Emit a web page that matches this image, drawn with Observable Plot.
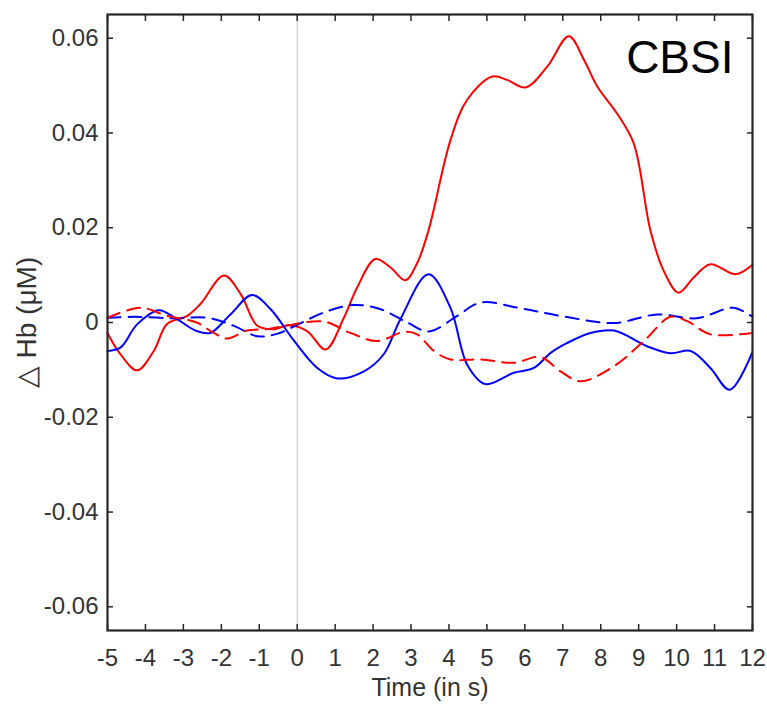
<!DOCTYPE html>
<html>
<head>
<meta charset="utf-8">
<script src="https://cdn.jsdelivr.net/npm/d3@7"></script>
<script src="https://cdn.jsdelivr.net/npm/@observablehq/plot@0.6"></script>
<style>
  html, body { margin: 0; padding: 0; background: #fff; }
  #chart { width: 767px; height: 706px; }
</style>
</head>
<body>
<div id="chart"></div>
<script>
// Haemoglobin change after stimulus onset (CBSI-corrected), four traces.
// Each trace: sample times (s) and ΔHb (µM).
const redSolidT = [-5, -4.66, -4.22, -3.78, -3.43, -2.9, -2.55, -1.93, -1.49, -1.05, -0.62, -0.22, 0.26, 0.75, 1.23, 1.58, 2.06, 2.46, 2.85, 3.16, 3.46, 4.04, 4.48, 5.14, 5.53, 6.02, 6.59, 7.16, 7.56, 7.91, 8.43, 8.87, 9.31, 9.66, 10.05, 10.45, 10.89, 11.55, 12];
const redSolidV = [-0.0022, -0.0067, -0.0101, -0.006, -0.0003, 0.0014, 0.0039, 0.0099, 0.006, -0.0007, -0.0014, -0.0006, -0.0018, -0.0057, 0.001, 0.0074, 0.0134, 0.0116, 0.0089, 0.0125, 0.0194, 0.0385, 0.047, 0.0519, 0.0512, 0.0496, 0.054, 0.0604, 0.0554, 0.0498, 0.0441, 0.0378, 0.0194, 0.0109, 0.0063, 0.0095, 0.0123, 0.0102, 0.0122];

const blueSolidT = [-5, -4.66, -4.22, -3.65, -3.17, -2.65, -2.29, -1.76, -1.19, -0.7, -0.08, 0.53, 1.05, 1.76, 2.28, 2.72, 3.46, 4.04, 4.48, 4.96, 5.71, 6.24, 6.68, 7.12, 7.73, 8.35, 9.22, 9.84, 10.37, 10.89, 11.4, 12];
const blueSolidV = [-0.006, -0.0053, -0.0004, 0.0026, 0.0007, -0.0018, -0.0022, 0.0017, 0.0058, 0.0028, -0.0039, -0.0096, -0.0118, -0.0103, -0.0067, 0.0007, 0.0102, 0.0031, -0.0089, -0.013, -0.0106, -0.0096, -0.0064, -0.0043, -0.0022, -0.0017, -0.005, -0.0065, -0.006, -0.0096, -0.0142, -0.0062];

const blueDashT = [-5, -4.31, -3.26, -2.37, -1.67, -1.05, -0.53, 0, 0.7, 1.49, 2.2, 2.9, 3.47, 4.22, 4.83, 5.89, 6.94, 8.35, 9.49, 10.53, 11.5, 12];
const blueDashV = [0.001, 0.0012, 0.0009, 0.001, -0.0007, -0.0029, -0.0024, -0.0005, 0.0021, 0.0037, 0.0028, 0.0, -0.0019, 0.0014, 0.0042, 0.003, 0.0014, -0.0001, 0.0017, 0.0009, 0.0031, 0.0012];

const redDashT = [-5, -4.13, -3.43, -2.65, -2.2, -1.84, -1.32, -0.79, -0.26, 0.7, 1.4, 2.11, 2.81, 3.16, 3.6, 4.04, 4.83, 5.71, 6.41, 6.94, 7.47, 8.35, 9.14, 9.84, 10.28, 10.89, 12];
const redDashV = [0.001, 0.0031, 0.0014, 0.0, -0.0022, -0.0034, -0.0017, -0.0014, -0.0006, 0.0002, -0.0022, -0.0039, -0.002, -0.0025, -0.006, -0.0078, -0.0078, -0.0085, -0.0073, -0.0103, -0.0124, -0.0092, -0.0039, 0.0012, 0.0003, -0.0025, -0.0022];

const xTicks = d3.range(-5, 13, 1);
const yTicks = [-0.06, -0.04, -0.02, 0, 0.02, 0.04, 0.06];
const onset = 0;
const panelTitle = "CBSI";
const xLabel = "Time (in s)";
const yLabel = "\u25B3 Hb (\u03BCM)";

const toRows = (t, v) => t.map((x, i) => ({t: x, v: v[i]}));
const series = [
  {rows: toRows(redSolidT, redSolidV), stroke: "#ff0000", dash: null},
  {rows: toRows(blueSolidT, blueSolidV), stroke: "#0000ff", dash: null},
  {rows: toRows(blueDashT, blueDashV), stroke: "#0000ff", dash: "13,8"},
  {rows: toRows(redDashT, redDashV), stroke: "#ff0000", dash: "13,8"}
];

const fmtX = d => String(d);
const fmtY = d => d === 0 ? "0" : d.toFixed(2);
const axisColor = "#262626";
const textColor = "#333";

const chart = Plot.plot({
  width: 767,
  height: 706,
  marginLeft: 107,
  marginRight: 15,
  marginTop: 14,
  marginBottom: 76,
  style: {fontFamily: "'Liberation Sans', Arial, sans-serif", fontSize: "24px", color: textColor, background: "#fff"},
  x: {domain: [-5, 12]},
  y: {domain: [-0.065, 0.065]},
  marks: [
    Plot.ruleX([onset], {stroke: "#c4c4c4", strokeWidth: 1}),
    ...series.map(s => Plot.line(s.rows, {
      x: "t", y: "v", stroke: s.stroke, strokeWidth: 2,
      strokeDasharray: s.dash, curve: "catmull-rom"
    })),
    Plot.axisX({anchor: "bottom", ticks: xTicks, tickSize: -6, tickPadding: 24, tickFormat: fmtX, label: null, stroke: axisColor, strokeWidth: 1.5}),
    Plot.axisX({anchor: "top", ticks: xTicks, tickSize: -6, fill: "none", label: null, stroke: axisColor, strokeWidth: 1.5}),
    Plot.axisY({anchor: "left", ticks: yTicks, tickSize: -6, tickPadding: 15, tickFormat: fmtY, label: null, stroke: axisColor, strokeWidth: 1.5}),
    Plot.axisY({anchor: "right", ticks: yTicks, tickSize: -6, fill: "none", label: null, stroke: axisColor, strokeWidth: 1.5}),
    Plot.frame({stroke: axisColor, strokeWidth: 2.2}),
    Plot.text([panelTitle], {frameAnchor: "top-right", dx: -19, dy: 26, textAnchor: "end", lineAnchor: "top", fontSize: 46, fill: "#000"}),
    Plot.text([xLabel], {frameAnchor: "bottom", dy: 48, textAnchor: "middle", lineAnchor: "top", fontSize: 25, fill: textColor}),
    Plot.text([yLabel], {frameAnchor: "left", dx: -80, rotate: -90, textAnchor: "middle", lineAnchor: "middle", fontSize: 28, fill: textColor})
  ]
});

document.getElementById("chart").appendChild(chart);
</script>
</body>
</html>
